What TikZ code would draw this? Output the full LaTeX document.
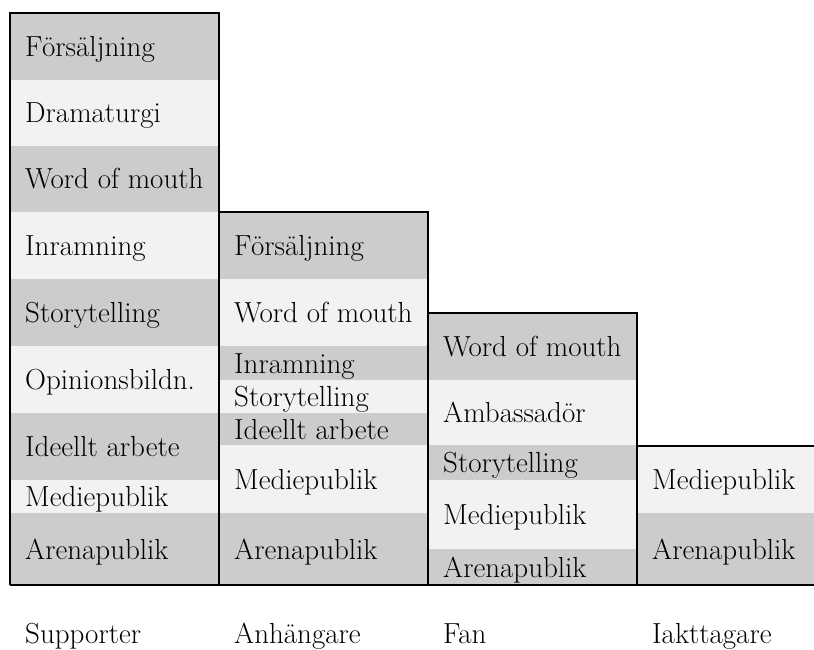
\documentclass[tikz,border=0pt]{standalone}
\usepackage{tikz}

\begin{document}
\begin{tikzpicture}[x=1pt,y=-1pt]
	\tikzset{dark/.style={fill=black!20},light/.style={fill=black!5},
		celltext/.style={anchor=base west,inner sep=0pt,font=\fontsize{29}{33}\selectfont},
		frame/.style={draw=black,line width=1.5pt}}
	\def\colw{209}
	\def\inset{15}
	\def\capmid{10}% half the cap height, puts the text in the middle of a cell
	\useasboundingbox (0,0) rectangle (814,650);
	% Supporter
	\foreach \ya/\yb/\sty/\lab [count=\i] in {13/80/dark/Försäljning,
		80/146/light/Dramaturgi, 146/212/dark/Word of mouth, 212/279/light/Inramning,
		279/346/dark/Storytelling, 346/413/light/Opinionsbildn., 413/480/dark/Ideellt arbete,
		480/513/light/Mediepublik, 513/585/dark/Arenapublik}
	{
		\fill[\sty] (10,\ya) rectangle ({10+\colw},\yb);
		\node[celltext] (sup\i) at ({10+\inset},{(\ya+\yb)/2+\capmid}) {\lab};
	}
	% Anhängare
	\foreach \ya/\yb/\sty/\lab [count=\i] in {212/279/dark/Försäljning,
		279/346/light/Word of mouth, 346/380/dark/Inramning, 380/413/light/Storytelling,
		413/445/dark/Ideellt arbete, 445/513/light/Mediepublik, 513/585/dark/Arenapublik}
	{
		\fill[\sty] (219,\ya) rectangle ({219+\colw},\yb);
		\node[celltext] (anh\i) at ({219+\inset},{(\ya+\yb)/2+\capmid}) {\lab};
	}
	% Fan
	\foreach \ya/\yb/\sty/\lab [count=\i] in {313/380/dark/Word of mouth,
		380/445/light/Ambassadör, 445/480/dark/Storytelling, 480/549/light/Mediepublik,
		549/585/dark/Arenapublik}
	{
		\fill[\sty] (428,\ya) rectangle ({428+\colw},\yb);
		\node[celltext] (fan\i) at ({428+\inset},{(\ya+\yb)/2+\capmid}) {\lab};
	}
	% Iakttagare
	\foreach \ya/\yb/\sty/\lab [count=\i] in {446/513/light/Mediepublik,
		513/585/dark/Arenapublik}
	{
		\fill[\sty] (637,\ya) rectangle (814,\yb);
		\node[celltext] (iak\i) at ({637+\inset},{(\ya+\yb)/2+\capmid}) {\lab};
	}
	% frames of the columns
	\draw[frame] (10,585) -- (10,13) -- (219,13) -- (219,585);
	\draw[frame] (219,212) -- (428,212) -- (428,585);
	\draw[frame] (428,313) -- (637,313) -- (637,585);
	\draw[frame] (637,446) -- (814,446);
	\draw[frame] (10,585) -- (814,585);
	% names of the groups
	\node[celltext] (supporter) at (25,643) {Supporter};
	\node[celltext] (anhangare) at (234,643) {Anhängare};
	\node[celltext] (fan) at (443,643) {Fan};
	\node[celltext] (iakttagare) at (652,643) {Iakttagare};
\end{tikzpicture}
\end{document}
